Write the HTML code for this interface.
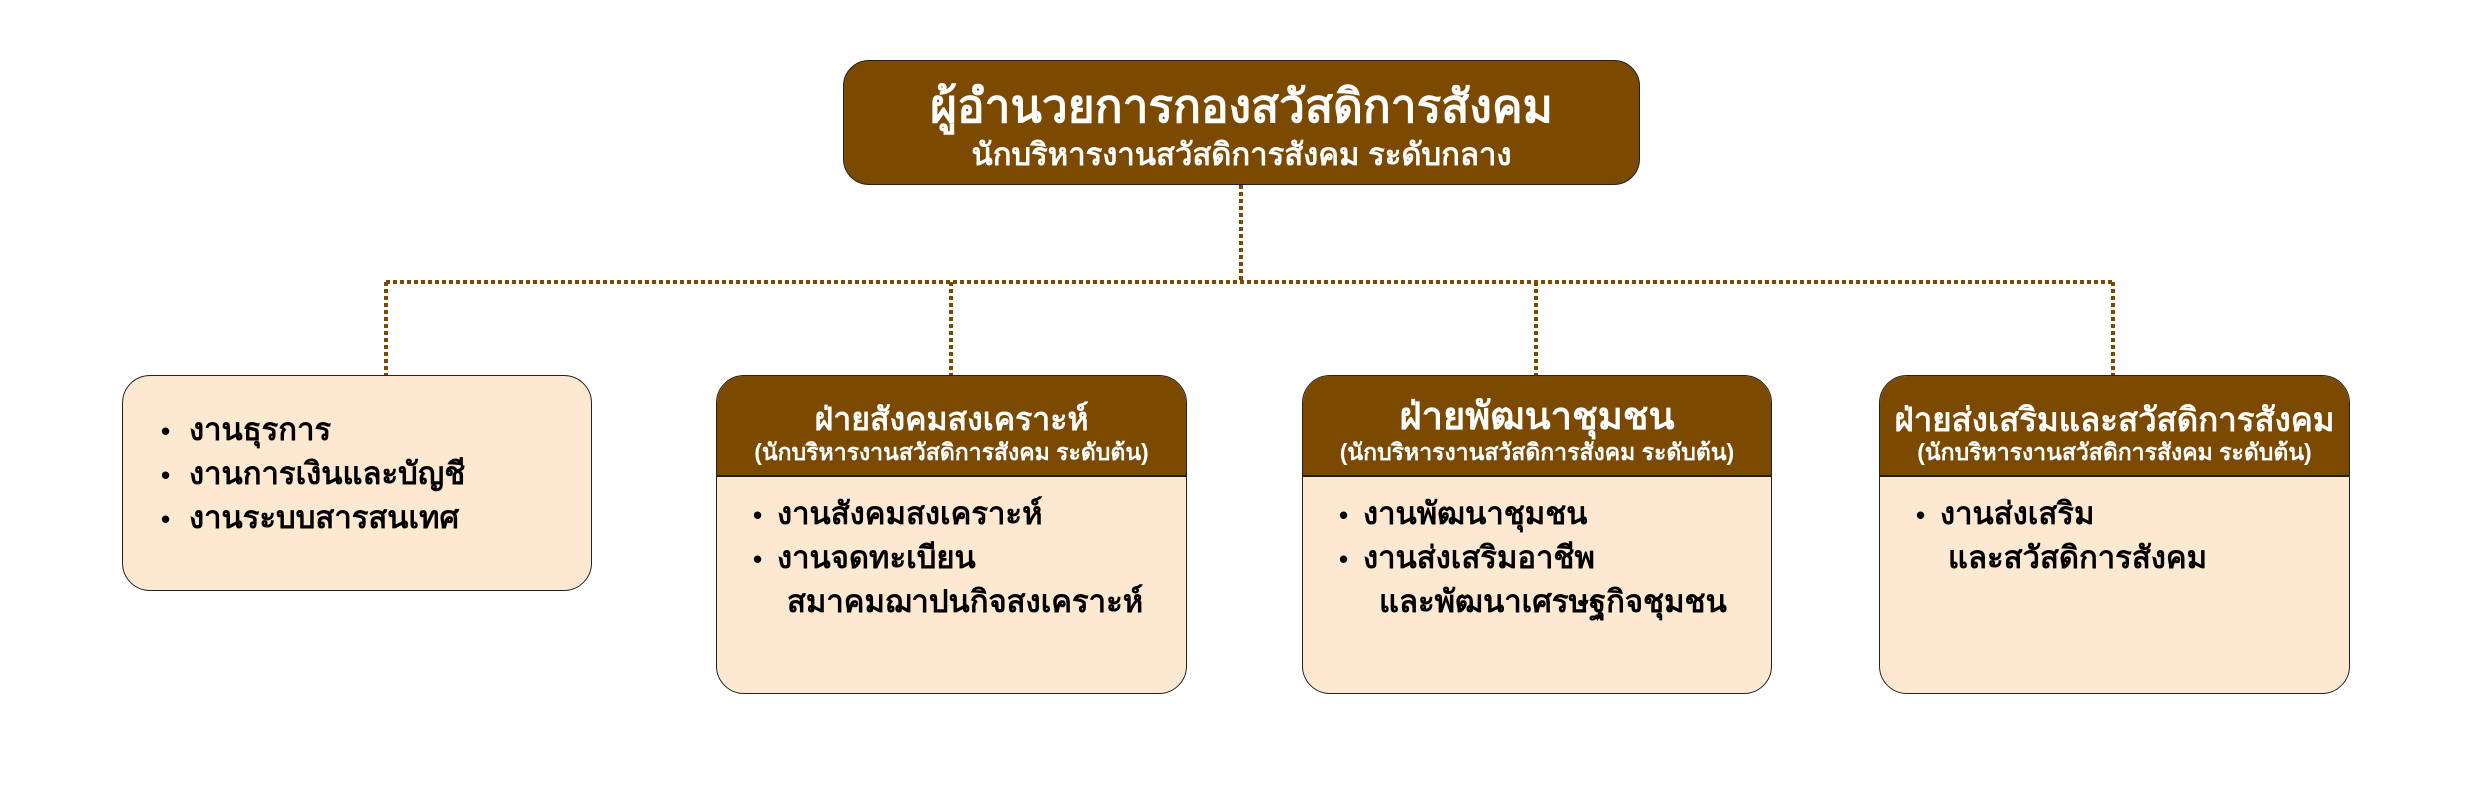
<!DOCTYPE html>
<html><head><meta charset="utf-8"><style>
body{margin:0;width:2480px;height:808px;background:#fff;position:relative;overflow:hidden;font-family:"Liberation Sans","DejaVu Sans",sans-serif;font-weight:bold}
.box{position:absolute;box-sizing:border-box;border:1.5px solid #222;border-radius:28px;background:#FDE9D1;overflow:hidden}
.hdr{position:absolute;left:0;right:0;top:0;background:#7B4A00;color:#fff;text-align:center;border-bottom:2px solid #222}
.t{position:absolute;white-space:nowrap;color:#000;font-size:31px;line-height:1}
.b{position:absolute;color:#000;font-size:26px;line-height:1}
.h1{position:absolute;left:0;right:0;white-space:nowrap;text-align:center;line-height:1}
</style></head><body>
<svg width="2480" height="808" style="position:absolute;left:0;top:0">
<g stroke="#7B4A00" stroke-width="4" stroke-dasharray="4,3" fill="none">
<line x1="1241" y1="185" x2="1241" y2="282"/>
<line x1="386" y1="282" x2="2113" y2="282"/>
<line x1="386" y1="282" x2="386" y2="376"/>
<line x1="951" y1="282" x2="951" y2="376"/>
<line x1="1536" y1="282" x2="1536" y2="376"/>
<line x1="2113" y1="282" x2="2113" y2="376"/>
</g></svg>

<div class="box" style="left:843px;top:60px;width:797px;height:125px;background:#7B4A00;border-radius:26px">
<div class="h1" style="top:22px;font-size:46px;color:#fff">ผู้อำนวยการกองสวัสดิการสังคม</div>
<div class="h1" style="top:78px;font-size:31px;color:#fff">นักบริหารงานสวัสดิการสังคม ระดับกลาง</div>
</div>

<div class="box" style="left:122px;top:375px;width:470px;height:216px">
<div class="b" style="left:38px;top:42px">•</div><div class="t" style="left:66px;top:38px">งานธุรการ</div>
<div class="b" style="left:38px;top:86px">•</div><div class="t" style="left:66px;top:82px">งานการเงินและบัญชี</div>
<div class="b" style="left:38px;top:130px">•</div><div class="t" style="left:66px;top:126px">งานระบบสารสนเทศ</div>
</div>

<div class="box" style="left:716px;top:375px;width:471px;height:319px">
<div class="hdr" style="height:99px">
<div class="h1" style="top:27px;font-size:32px">ฝ่ายสังคมสงเคราะห์</div>
<div class="h1" style="top:65px;font-size:23px">(นักบริหารงานสวัสดิการสังคม ระดับต้น)</div>
</div>
<div class="b" style="left:36px;top:126px">•</div><div class="t" style="left:60px;top:122px">งานสังคมสงเคราะห์</div>
<div class="b" style="left:36px;top:170px">•</div><div class="t" style="left:60px;top:166px">งานจดทะเบียน</div>
<div class="t" style="left:70px;top:210px">สมาคมฌาปนกิจสงเคราะห์</div>
</div>

<div class="box" style="left:1302px;top:375px;width:470px;height:319px">
<div class="hdr" style="height:99px">
<div class="h1" style="top:22px;font-size:38px">ฝ่ายพัฒนาชุมชน</div>
<div class="h1" style="top:65px;font-size:23px">(นักบริหารงานสวัสดิการสังคม ระดับต้น)</div>
</div>
<div class="b" style="left:36px;top:126px">•</div><div class="t" style="left:60px;top:122px">งานพัฒนาชุมชน</div>
<div class="b" style="left:36px;top:170px">•</div><div class="t" style="left:60px;top:166px">งานส่งเสริมอาชีพ</div>
<div class="t" style="left:76px;top:210px">และพัฒนาเศรษฐกิจชุมชน</div>
</div>

<div class="box" style="left:1879px;top:375px;width:471px;height:319px">
<div class="hdr" style="height:99px">
<div class="h1" style="top:27px;font-size:33px">ฝ่ายส่งเสริมและสวัสดิการสังคม</div>
<div class="h1" style="top:65px;font-size:23px">(นักบริหารงานสวัสดิการสังคม ระดับต้น)</div>
</div>
<div class="b" style="left:36px;top:126px">•</div><div class="t" style="left:60px;top:122px">งานส่งเสริม</div>
<div class="t" style="left:68px;top:166px">และสวัสดิการสังคม</div>
</div>
</body></html>
